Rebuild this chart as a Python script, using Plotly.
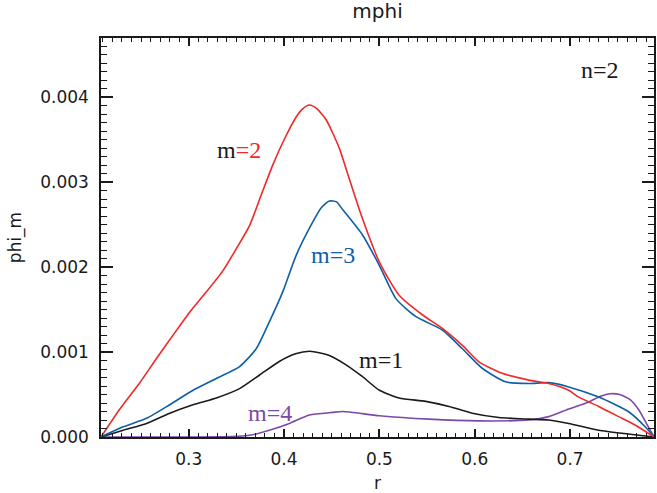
import plotly.graph_objects as go

# Data
r_m2 = [0.208, 0.2278, 0.2487, 0.2662, 0.2836, 0.301, 0.3185, 0.336, 0.350, 0.3638, 0.376, 0.388, 0.4004,
        0.4127, 0.419, 0.4266, 0.434, 0.444, 0.458, 0.465, 0.4823, 0.500, 0.5207, 0.545, 0.566, 0.587, 0.6044, 0.6288,
        0.6567, 0.6776, 0.6985, 0.709, 0.730, 0.751, 0.770, 0.788]
v_m2 = [0.0, 0.00033, 0.00064, 0.000925, 0.00120, 0.00147, 0.00171, 0.00196, 0.00222, 0.00249, 0.00285, 0.00320, 0.00351,
        0.00377, 0.00386, 0.00391, 0.00387, 0.00374, 0.00340, 0.00316, 0.00257, 0.00206, 0.00167, 0.00144, 0.00128, 0.00108, 0.000886, 0.00075,
        0.00067, 0.00063, 0.00055, 0.00047, 0.00036, 0.00024, 0.00013, 0.0]

r_m3 = [0.208, 0.2313, 0.2558, 0.2801, 0.3045, 0.329, 0.3533, 0.3708, 0.3847, 0.3986, 0.4127, 0.430, 0.439, 0.4475,
        0.455, 0.4614, 0.4823, 0.500, 0.5173, 0.538, 0.566, 0.587, 0.6078, 0.6323, 0.6567, 0.6776, 0.6985, 0.730,
        0.761, 0.7788, 0.788]
v_m3 = [0.0, 0.00012, 0.00022, 0.00038, 0.00055, 0.00069, 0.00083, 0.00104, 0.00136, 0.00171, 0.00214, 0.00253, 0.00270, 0.00278,
        0.00277, 0.00268, 0.00238, 0.00202, 0.00163, 0.00142, 0.00126, 0.00104, 0.00081, 0.00065, 0.00063, 0.00064, 0.00059, 0.00047,
        0.00030, 0.00012, 0.0]

r_m1 = [0.208, 0.2313, 0.2558, 0.2801, 0.3045, 0.329, 0.3533, 0.3743, 0.395, 0.412, 0.4266, 0.438, 0.4475, 0.465, 0.4823,
        0.500, 0.5207, 0.5486, 0.573, 0.5974, 0.6253, 0.6567, 0.6776, 0.6985, 0.730, 0.761, 0.788]
v_m1 = [0.0, 0.00008, 0.00016, 0.00028, 0.00038, 0.00046, 0.00057, 0.00073, 0.00089, 0.00098, 0.00101, 0.00099, 0.00096, 0.00085, 0.00071,
        0.00055, 0.00046, 0.00042, 0.00036, 0.00028, 0.00023, 0.00021, 0.00020, 0.00016, 0.00008, 0.000035, 0.0]

r_m4 = [0.208, 0.300, 0.345, 0.364, 0.3847, 0.4056, 0.4266, 0.451, 0.4614, 0.500, 0.552, 0.6044, 0.6567,
        0.6776, 0.6985, 0.719, 0.732, 0.742, 0.752, 0.763, 0.772, 0.780, 0.788]
v_m4 = [0.0, 0.0, 0.000005, 0.00002, 0.00008, 0.00016, 0.00026, 0.00029, 0.00030, 0.00025, 0.00021, 0.00019, 0.00020,
        0.00024, 0.00033, 0.00041, 0.00048, 0.00051, 0.00050, 0.00044, 0.00032, 0.00016, 0.0]

x_ticks = [0.3, 0.4, 0.5, 0.6, 0.7]
y_ticks = [0.0, 0.001, 0.002, 0.003, 0.004]
y_labels = ["0.000", "0.001", "0.002", "0.003", "0.004"]

RED = "#f02828"
BLUE = "#0e5ea8"
BLACK = "#1a1a1a"
PURPLE = "#7b4aa6"

fig = go.Figure()
for rr, vv, col in [(r_m4, v_m4, PURPLE), (r_m1, v_m1, BLACK), (r_m3, v_m3, BLUE), (r_m2, v_m2, RED)]:
    fig.add_trace(go.Scatter(x=rr, y=vv, mode="lines",
                             line=dict(color=col, width=1.6, shape="spline", smoothing=0.6),
                             showlegend=False, hoverinfo="skip"))

tick_font = dict(family="DejaVu Sans", size=17, color=BLACK)
serif = "Liberation Serif"

fig.update_layout(
    width=657, height=493,
    margin=dict(l=101, r=1, t=38, b=56),
    paper_bgcolor="white", plot_bgcolor="white",
    title=dict(text="mphi", x=0.5, xanchor="center", xref="paper", y=1, yref="container",
               yanchor="top", pad=dict(t=4), font=dict(family="DejaVu Sans", size=20, color=BLACK)),
    xaxis=dict(range=[0.208, 0.788], tickvals=x_ticks, ticktext=[str(t) for t in x_ticks],
               showgrid=False, zeroline=False, showline=True, linecolor=BLACK, linewidth=1.5,
               mirror="allticks", ticks="inside", ticklen=8, tickwidth=1.5, tickcolor=BLACK,
               minor=dict(dtick=0.01, ticks="inside", ticklen=4, tickwidth=1.2, tickcolor=BLACK, showgrid=False),
               tickfont=tick_font, ticklabelstandoff=6,
               title=dict(text="r", font=dict(family="DejaVu Sans", size=17, color=BLACK), standoff=9)),
    yaxis=dict(range=[0, 0.0047], tickvals=y_ticks, ticktext=y_labels,
               showgrid=False, zeroline=False, showline=True, linecolor=BLACK, linewidth=1.5,
               mirror="allticks", ticks="inside", ticklen=12, tickwidth=1.5, tickcolor=BLACK,
               minor=dict(dtick=0.0001, ticks="inside", ticklen=6, tickwidth=1.2, tickcolor=BLACK, showgrid=False),
               tickfont=tick_font, ticklabelstandoff=7,
               title=dict(text="phi_m", font=dict(family="DejaVu Sans", size=17, color=BLACK), standoff=14)),
)

ann = [
    (0.731, 0.00432, "n=2", BLACK),
    (0.353, 0.00338, "m<span style='color:%s'>=2</span>" % RED, BLACK),
    (0.451, 0.00214, "m=3", BLUE),
    (0.502, 0.00091, "m=1", BLACK),
    (0.385, 0.00028, "m=4", PURPLE),
]
for x, y, t, c in ann:
    fig.add_annotation(x=x, y=y, text=t, showarrow=False, xanchor="center", yanchor="middle",
                       font=dict(family=serif, size=24, color=c))

fig.write_html("out.html")
